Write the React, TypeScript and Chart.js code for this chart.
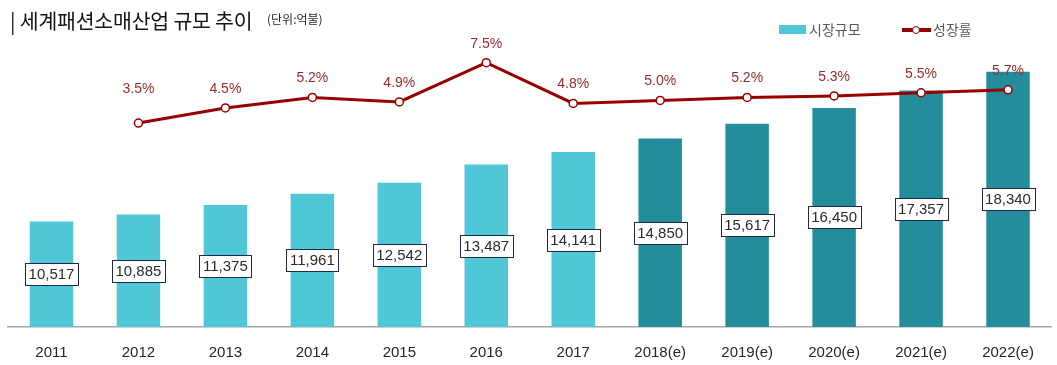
import React, { useEffect, useRef } from "react";
import { Chart, registerables } from "chart.js";

Chart.register(...registerables);

// ---- data ----
const categories = ["2011", "2012", "2013", "2014", "2015", "2016", "2017", "2018(e)", "2019(e)", "2020(e)", "2021(e)", "2022(e)"];
const marketSize = [10517, 10885, 11375, 11961, 12542, 13487, 14141, 14850, 15617, 16450, 17357, 18340];
const growthRate = [null, 3.5, 4.5, 5.2, 4.9, 7.5, 4.8, 5.0, 5.2, 5.3, 5.5, 5.7];
const sizeLabel = "시장규모";
const growthLabel = "성장률";
const titleText = "| 세계패션소매산업 규모 추이";
const unitText = "(단위:억불)";

// ---- styles ----
const LIGHT = "#50c7d7";
const DARK = "#248d9b";
const LINE = "#980000";
const PCT_TEXT = "#9a2a2a";
const NUM_FONT = "'Liberation Sans', Arial, sans-serif";
const KR_FONT = "'Noto Sans CJK KR', 'Noto Sans', sans-serif";

const labelPlugin = {
  id: "valueLabels",
  afterDatasetsDraw(chart: any) {
    const ctx = chart.ctx;
    const area = chart.chartArea;
    ctx.save();
    ctx.textAlign = "center";
    ctx.textBaseline = "middle";
    // bar value boxes
    ctx.font = `15px ${NUM_FONT}`;
    const barMeta = chart.getDatasetMeta(0);
    barMeta.data.forEach((bar: any, i: number) => {
      const { x, y, base } = bar.getProps(["x", "y", "base"], true);
      const bottom = Math.min(base, area.bottom);
      const cy = Math.round((y + bottom) / 2);
      const text = marketSize[i].toLocaleString("en-US");
      const w = Math.round(ctx.measureText(text).width + 7);
      const h = 22;
      const left = Math.round(x - w / 2) + 0.5;
      const top = cy - h / 2 + 0.5;
      ctx.fillStyle = "#ffffff";
      ctx.fillRect(left, top, w, h);
      ctx.strokeStyle = "#1f2a44";
      ctx.lineWidth = 1;
      ctx.strokeRect(left, top, w, h);
      ctx.fillStyle = "#2b2b2b";
      ctx.fillText(text, x, cy + 1);
    });
    // growth rate labels
    ctx.font = `14px ${NUM_FONT}`;
    ctx.fillStyle = PCT_TEXT;
    const lineMeta = chart.getDatasetMeta(1);
    let first = true;
    lineMeta.data.forEach((pt: any, i: number) => {
      const v = growthRate[i];
      if (v == null) return;
      const lift = first ? 34 : 19;
      first = false;
      ctx.fillText(v.toFixed(1) + "%", pt.x, pt.y - lift);
    });
    ctx.restore();
  },
};

export default function App() {
  const canvasRef = useRef<HTMLCanvasElement | null>(null);

  useEffect(() => {
    if (!canvasRef.current) return;
    const chart = new Chart(canvasRef.current, {
      type: "bar",
      data: {
        labels: categories,
        datasets: [
          {
            type: "bar",
            label: sizeLabel,
            data: marketSize,
            backgroundColor: categories.map((c) => (c.includes("(e)") ? DARK : LIGHT)),
            categoryPercentage: 1,
            barPercentage: 0.5,
            yAxisID: "y",
            order: 2,
          } as any,
          {
            type: "line",
            label: growthLabel,
            data: growthRate,
            borderColor: LINE,
            borderWidth: 3,
            pointRadius: 4,
            pointBorderWidth: 1.5,
            pointBackgroundColor: "#ffffff",
            pointBorderColor: LINE,
            tension: 0,
            spanGaps: false,
            yAxisID: "y1",
            order: 1,
          } as any,
        ],
      },
      options: {
        responsive: false,
        animation: false,
        layout: { padding: { left: 8, right: 4, top: 40, bottom: 0 } },
        plugins: {
          legend: { display: false },
          tooltip: { enabled: false },
          title: { display: false },
        },
        scales: {
          x: {
            grid: { display: false, drawTicks: false },
            border: { display: true, color: "#a6a6a6", width: 1.5 },
            ticks: {
              color: "#262626",
              font: { family: NUM_FONT, size: 15 },
              padding: 17,
            },
            afterFit: (scale: any) => {
              scale.height = 38;
            },
          },
          y: {
            display: false,
            min: 5000,
            max: 20000,
          },
          y1: {
            display: false,
            position: "right",
            min: -10,
            max: 9,
          },
        },
      },
      plugins: [labelPlugin],
    });
    return () => chart.destroy();
  }, []);

  return (
    <div
      style={{
        position: "fixed",
        left: 0,
        top: 0,
        width: 1057,
        height: 365,
        background: "#ffffff",
        overflow: "hidden",
      }}
    >
      <canvas ref={canvasRef} width={1057} height={365} style={{ position: "absolute", left: 0, top: 0 }} />
      <div
        style={{
          position: "absolute",
          left: 10,
          top: 6,
          fontFamily: KR_FONT,
          fontSize: 20.5,
          lineHeight: "28px",
          color: "#141414",
          whiteSpace: "nowrap",
          letterSpacing: -0.2,
        }}
      >
        {titleText}
      </div>
      <div
        style={{
          position: "absolute",
          left: 267,
          top: 10,
          fontFamily: KR_FONT,
          fontSize: 12,
          lineHeight: "18px",
          color: "#262626",
          whiteSpace: "nowrap",
        }}
      >
        {unitText}
      </div>
      {/* legend */}
      <div style={{ position: "absolute", left: 779, top: 25, width: 27, height: 9, background: LIGHT }} />
      <div
        style={{
          position: "absolute",
          left: 809,
          top: 19,
          fontFamily: KR_FONT,
          fontSize: 14,
          lineHeight: "20px",
          color: "#595959",
          whiteSpace: "nowrap",
        }}
      >
        {sizeLabel}
      </div>
      <div style={{ position: "absolute", left: 902, top: 28, width: 29, height: 4, background: LINE }} />
      <div
        style={{
          position: "absolute",
          left: 912,
          top: 26,
          width: 6,
          height: 6,
          borderRadius: "50%",
          background: "#ffffff",
          border: `1.5px solid ${LINE}`,
        }}
      />
      <div
        style={{
          position: "absolute",
          left: 933,
          top: 19,
          fontFamily: KR_FONT,
          fontSize: 14,
          lineHeight: "20px",
          color: "#595959",
          whiteSpace: "nowrap",
        }}
      >
        {growthLabel}
      </div>
    </div>
  );
}
